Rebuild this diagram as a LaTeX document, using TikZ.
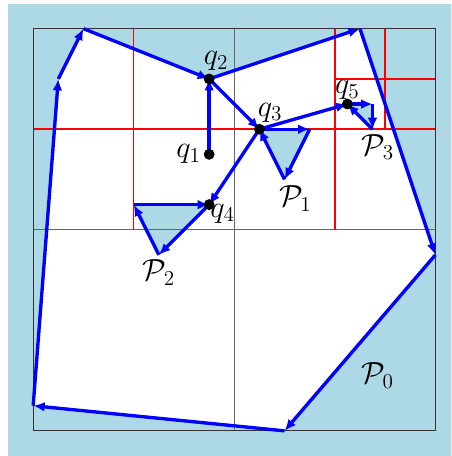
\documentclass[tikz,border=0pt]{standalone}
\usetikzlibrary{arrows.meta, positioning}
\definecolor{cellblue}{RGB}{173,216,230}
\definecolor{edgeblue}{RGB}{0,0,255}

\begin{document}
\begin{tikzpicture}[every node/.style={font=\LARGE, inner sep=1pt},
    edge/.style={edgeblue, line width=1.9pt, -{Latex[length=6.5pt, width=5.5pt]}},
    split/.style={red, line width=0.8pt}]

        \clip (-0.66,-0.5) rectangle (8.32,8.57);
        \fill[cellblue] (-0.5,-0.5) rectangle (8.5,8.5);

        % --- PUNTOS ---
        \coordinate (a) at (0,0.5);
        \coordinate (b) at (0.5,7);
        \coordinate (c) at (1,8);
        \coordinate (d) at (6.5,8);
        \coordinate (e) at (8,3.5);
        \coordinate (f) at (5,0);
        \coordinate (q1) at (3.5,5.5);
        \coordinate (q2) at (3.5,7);
        \coordinate (q3) at (4.5,6);
        \coordinate (q4) at (3.5,4.5);
        \coordinate (q5) at (6.25,6.5);
        \coordinate (t1a) at (5.5,6);
        \coordinate (t1b) at (5,5);
        \coordinate (t2a) at (2,4.5);
        \coordinate (t2b) at (2.5,3.5);
        \coordinate (t3a) at (6.75,6.5);
        \coordinate (t3b) at (6.75,6);

        % Regiones
        \fill[white] (a) -- (b) -- (c) -- (q2) -- (d) -- (e) -- (f) -- cycle;
        \fill[cellblue] (q3) -- (t1a) -- (t1b) -- cycle;
        \fill[cellblue] (t2a) -- (q4) -- (t2b) -- cycle;
        \fill[cellblue] (q5) -- (t3a) -- (t3b) -- cycle;

        % Cuadrícula
        \draw[black!60, line width=0.8pt] (4,0) -- (4,8) (0,4) -- (8,4);
        \draw[split] (2,4) -- (2,8) (6,4) -- (6,8) (0,6) -- (8,6);
        \draw[split] (7,6) -- (7,8) (6,7) -- (8,7);
        \draw[black!80, line width=0.7pt] (0,0) rectangle (8,8);

        % --- P0 ---
        \draw[edge] (a) -- (b);
        \draw[edge] (b) -- (c);
        \draw[edge] (c) -- (q2);
        \draw[edge] (q2) -- (d);
        \draw[edge] (d) -- (e);
        \draw[edge] (e) -- (f);
        \draw[edge] (f) -- (a);

        % --- P1, P2, P3 ---
        \draw[edge] (q3) -- (t1a);
        \draw[edge] (t1a) -- (t1b);
        \draw[edge] (t1b) -- (q3);
        \draw[edge] (t2a) -- (q4);
        \draw[edge] (q4) -- (t2b);
        \draw[edge] (t2b) -- (t2a);
        \draw[edge] (q5) -- (t3a);
        \draw[edge] (t3a) -- (t3b);
        \draw[edge] (t3b) -- (q5);

        % Camino q1 -> q5
        \draw[edge] (q1) -- (q2);
        \draw[edge] (q2) -- (q3);
        \draw[edge] (q3) -- (q4);
        \draw[edge] (q3) -- (q5);

        \foreach \q in {q1,q2,q3,q4,q5}
            \filldraw[black] (\q) circle (0.1);

        % Etiquetas
        \node[left=0.12cm of q1] (lq1) {$q_1$};
        \node[above=0.12cm of q2, xshift=4pt] (lq2) {$q_2$};
        \node[above=0.1cm of q3, xshift=6pt] (lq3) {$q_3$};
        \node[below right=-0.05cm and -0.02cm of q4] (lq4) {$q_4$};
        \node[above=0.05cm of q5] (lq5) {$q_5$};
        \node[below right=0.08cm and -0.15cm of t1b] (lp1) {$\mathcal{P}_1$};
        \node[below=0.06cm of t2b] (lp2) {$\mathcal{P}_2$};
        \node[below=0.06cm of t3b, xshift=3pt] (lp3) {$\mathcal{P}_3$};
        \node (lp0) at (6.85,1.1) {$\mathcal{P}_0$};

    \end{tikzpicture}
\end{document}
